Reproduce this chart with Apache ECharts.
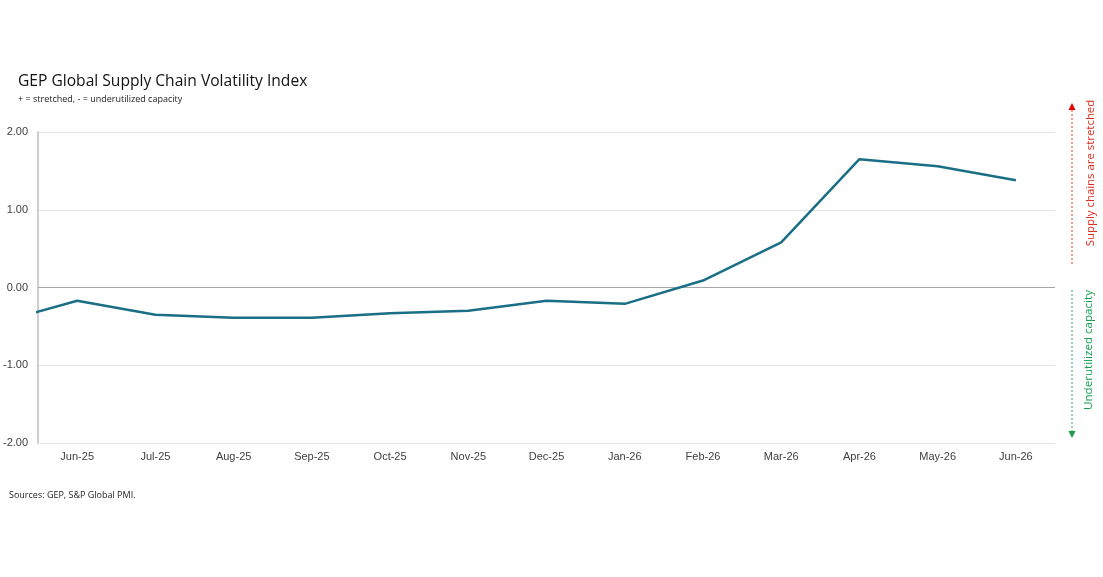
<!DOCTYPE html>
<html>
<head>
<meta charset="utf-8">
<script src="https://cdn.jsdelivr.net/npm/echarts@6/dist/echarts.min.js"></script>
<style>
  html, body { margin: 0; padding: 0; background: #fff; }
  #chart { width: 1103px; height: 577px; }
</style>
</head>
<body>
<div id="chart"></div>
<script>
// months; May-25 sits left of the visible range, only its segment shows
const months = ["May-25", "Jun-25", "Jul-25", "Aug-25", "Sep-25", "Oct-25", "Nov-25",
  "Dec-25", "Jan-26", "Feb-26", "Mar-26", "Apr-26", "May-26", "Jun-26"];
const volatility = [-0.45, -0.17, -0.35, -0.39, -0.39, -0.33, -0.30,
  -0.17, -0.21, 0.09, 0.58, 1.65, 1.56, 1.38];
const yTicks = [-2, -1, 0, 1, 2];

const labelFont = { color: "#404040", fontSize: 11, fontFamily: "Liberation Sans, Arial, sans-serif" };

const chart = echarts.init(document.getElementById("chart"));
chart.setOption({
  animation: false,
  grid: { left: 38, right: 48, top: 132, bottom: 134 },
  title: [
    {
      text: "GEP Global Supply Chain Volatility Index",
      left: 13, top: 69,
      textStyle: { fontSize: 15.6, fontWeight: "normal", color: "#111", fontFamily: "Open Sans, sans-serif" },
    },
    {
      text: "+ = stretched, - = underutilized capacity",
      left: 13, top: 90,
      textStyle: { fontSize: 9, fontWeight: "normal", color: "#222", fontFamily: "Open Sans, sans-serif" },
    },
    {
      text: "Sources: GEP, S&P Global PMI.",
      left: 4, top: 486,
      textStyle: { fontSize: 9, fontWeight: "normal", color: "#222", fontFamily: "Open Sans, sans-serif" },
    },
  ],
  xAxis: {
    type: "value",
    min: -0.5,
    max: months.length - 1.5,
    axisLine: { show: false, onZero: false },
    axisTick: { show: false },
    splitLine: { show: false },
    axisLabel: Object.assign({}, labelFont, {
      margin: 8,
      customValues: months.slice(1).map((m, i) => i),
      formatter: (v) => months[Math.round(v) + 1],
    }),
  },
  yAxis: {
    type: "value",
    min: yTicks[0],
    max: yTicks[yTicks.length - 1],
    interval: 1,
    axisLine: { show: true, onZero: false, lineStyle: { color: "#bfbfbf", width: 1.5 } },
    axisTick: { show: false },
    splitLine: { lineStyle: { color: "#e3e3e3", width: 1 } },
    axisLabel: Object.assign({}, labelFont, {
      margin: 10,
      formatter: (v) => v.toFixed(2),
    }),
  },
  series: [
    {
      type: "line",
      data: volatility.map((v, i) => [i - 1, v]),
      symbol: "none",
      clip: true,
      lineStyle: { color: "#1a6e85", width: 2.5 },
      markLine: {
        silent: true,
        symbol: "none",
        label: { show: false },
        lineStyle: { color: "#a6a6a6", type: "solid", width: 1.2 },
        data: [{ yAxis: 0 }],
        z: 1,
      },
    },
  ],
  graphic: [
    {
      type: "line",
      shape: { x1: 1072, y1: 110, x2: 1072, y2: 266 },
      style: { stroke: "#e03c31", lineWidth: 1, lineDash: [2, 2] },
    },
    {
      type: "polygon",
      shape: { points: [[1068.5, 110], [1075.5, 110], [1072, 103]] },
      style: { fill: "#e00000" },
    },
    {
      type: "text",
      x: 1091, y: 173,
      rotation: Math.PI / 2,
      style: {
        text: "Supply chains are stretched",
        fill: "#e0261b", fontSize: 11.4, fontFamily: "Open Sans, sans-serif",
        align: "center", verticalAlign: "middle",
      },
    },
    {
      type: "line",
      shape: { x1: 1072, y1: 290, x2: 1072, y2: 431 },
      style: { stroke: "#2aa85c", lineWidth: 1, lineDash: [2, 2] },
    },
    {
      type: "polygon",
      shape: { points: [[1068.5, 431], [1075.5, 431], [1072, 438]] },
      style: { fill: "#1a9a4a" },
    },
    {
      type: "text",
      x: 1089, y: 350,
      rotation: Math.PI / 2,
      style: {
        text: "Underutilized capacity",
        fill: "#12a04c", fontSize: 11.6, fontFamily: "Open Sans, sans-serif",
        align: "center", verticalAlign: "middle",
      },
    },
  ],
});
</script>
</body>
</html>
